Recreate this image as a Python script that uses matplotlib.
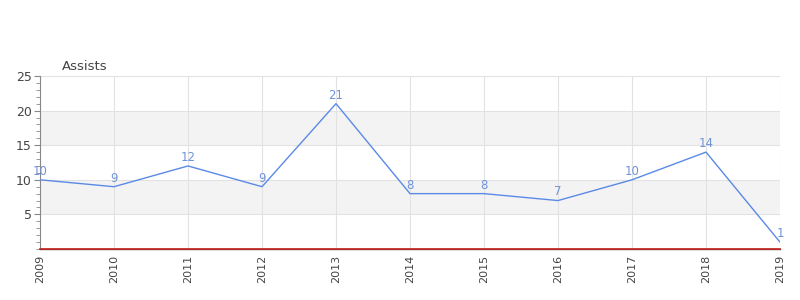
import numpy as np
import matplotlib.pyplot as plt
from matplotlib.ticker import MultipleLocator

years = [2009, 2010, 2011, 2012, 2013, 2014, 2015, 2016, 2017, 2018, 2019]
assists = [10, 9, 12, 9, 21, 8, 8, 7, 10, 14, 1]
y_ticks = [5, 10, 15, 20, 25]

line_c = '#5a8ae6'
label_c = '#6f93d9'
text_c = '#444444'

fig = plt.figure(figsize=(8, 3), dpi=100)
ax = fig.add_axes([0.05, 0.17, 0.925, 0.5767])

# bandes alternées
for lo in range(0, 25, 5):
    if (lo // 5) % 2 == 1:
        ax.axhspan(lo, lo + 5, color='#f3f3f3', zorder=0, lw=0)

ax.plot(years, assists, color=line_c, lw=1, zorder=3)
for x, y in zip(years, assists):
    ax.annotate(str(y), (x, y), xytext=(0, 1.5), textcoords='offset points',
                ha='center', va='bottom', color=label_c, fontsize=8.5, zorder=4)

ax.set_xlim(years[0], years[-1])
ax.set_ylim(0, 25)
ax.set_xticks(years)
ax.set_xticklabels([str(y) for y in years], rotation=90, fontsize=8, color=text_c)
ax.set_yticks(y_ticks)
ax.set_yticklabels([str(t) for t in y_ticks], fontsize=9, color=text_c)
ax.yaxis.set_minor_locator(MultipleLocator(1))
ax.grid(True, color='#e2e2e2', lw=0.8, zorder=1)
ax.set_axisbelow(True)

for s in ['top', 'right']:
    ax.spines[s].set_visible(False)
ax.spines['left'].set_color('#888888')
ax.spines['bottom'].set_color('#555555')
ax.spines['bottom'].set_linewidth(1)
ax.axhline(0, color='#c8201c', lw=1.2, zorder=5, clip_on=False)
ax.tick_params(axis='y', which='both', color='#888888', length=4, pad=2)
ax.tick_params(axis='y', which='minor', length=3)
ax.tick_params(axis='x', length=0, pad=4)

ax.text(0.03, 1.02, 'Assists', transform=ax.transAxes, fontsize=9.5,
        color=text_c, ha='left', va='bottom')

fig.savefig('out.png', dpi=100)
